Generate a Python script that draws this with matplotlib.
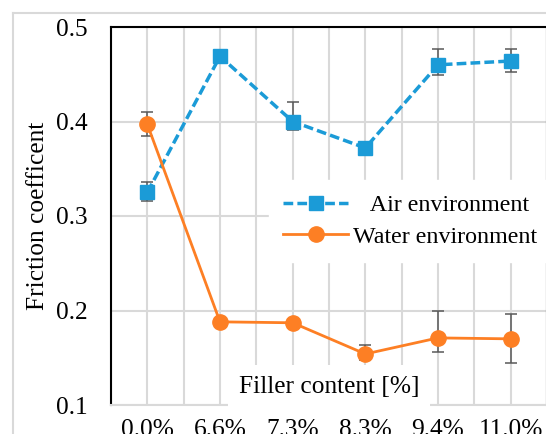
import matplotlib
matplotlib.use('Agg')
import matplotlib.pyplot as plt
from matplotlib.lines import Line2D
from matplotlib.ticker import FixedLocator

# data
fillers = ['0.0%', '6.6%', '7.3%', '8.3%', '9.4%', '11.0%']
air = [0.325, 0.469, 0.400, 0.372, 0.460, 0.464]
air_lo = [0.009, 0.004, 0.009, 0.004, 0.011, 0.012]
air_hi = [0.011, 0.004, 0.021, 0.004, 0.017, 0.013]
water = [0.397, 0.188, 0.187, 0.154, 0.171, 0.170]
water_lo = [0.012, 0.003, 0.003, 0.006, 0.015, 0.026]
water_hi = [0.013, 0.003, 0.003, 0.009, 0.029, 0.026]

blue = '#1b9bd7'
orange = '#fd7f24'
grid = '#d9d9d9'
ecol = '#595959'

plt.rcParams['font.family'] = ['Liberation Serif', 'DejaVu Serif']
fs = 18.3
fs_leg = 17.3

fig = plt.figure(figsize=(5.46, 4.34), dpi=100)
W, H = 546, 434
ax = fig.add_axes([111 / W, 29 / H, 436 / W, 378 / H])

x = list(range(len(fillers)))

ax.errorbar(x, air, yerr=[air_lo, air_hi], fmt='none', ecolor=ecol,
            elinewidth=1.1, capsize=4, capthick=1.1, zorder=3)
ax.errorbar(x, water, yerr=[water_lo, water_hi], fmt='none', ecolor=ecol,
            elinewidth=1.1, capsize=4, capthick=1.1, zorder=3)

ax.plot(x, air, color=blue, lw=2.5, ls=(0, (2.8, 1.2)), marker='s', ms=9.5,
        zorder=4, label='  \u2009Air environment')
ax.plot(x, water, color=orange, lw=2.0, marker='o', ms=11, zorder=5,
        label='Water environment')

ax.set_xlim(-0.5, 5.5)
ax.set_ylim(0.1, 0.5)
ax.set_xticks(x)
ax.set_xticklabels(fillers)
ax.xaxis.set_minor_locator(FixedLocator([i + 0.5 for i in range(-1, 6)]))
ax.set_yticks([0.1, 0.2, 0.3, 0.4, 0.5])
ax.set_yticklabels(['0.1', '0.2', '0.3', '0.4', '0.5'])
ax.tick_params(axis='both', which='both', length=0, labelsize=fs)
ax.tick_params(axis='y', pad=17)
ax.tick_params(axis='x', pad=10)

ax.set_axisbelow(True)
ax.grid(True, which='major', color=grid, lw=1.5)
ax.grid(True, which='minor', axis='x', color=grid, lw=1.5)

for s in ['top', 'left', 'right']:
    ax.spines[s].set_color('black')
    ax.spines[s].set_linewidth(1.5)
ax.spines['bottom'].set_color(grid)
ax.spines['bottom'].set_linewidth(1.5)

ax.set_ylabel('Friction coefficent', fontsize=fs)
ax.yaxis.set_label_coords(-0.142, 0.5)

ax.text(0.5, 0.048, 'Filler content [%]', transform=ax.transAxes,
        ha='center', va='center', fontsize=fs, zorder=6,
        bbox=dict(facecolor='white', edgecolor='none', pad=8))

leg = ax.legend(loc='upper left', bbox_to_anchor=(0.362, 0.595),
                borderaxespad=0, borderpad=0.6, fontsize=fs_leg, frameon=True,
                fancybox=False, handlelength=2.7, handletextpad=0.2,
                labelspacing=0.4)
leg.get_frame().set_facecolor('white')
leg.get_frame().set_edgecolor('white')
leg.get_frame().set_alpha(1)
leg.set_zorder(7)

# light grey chart-area border
fig.add_artist(Line2D([13 / W, 13 / W], [0, 1 - 13 / H], color=grid, lw=1.5))
fig.add_artist(Line2D([13 / W, 1], [1 - 13 / H, 1 - 13 / H], color=grid, lw=1.5))

fig.savefig('out.png', dpi=100)
